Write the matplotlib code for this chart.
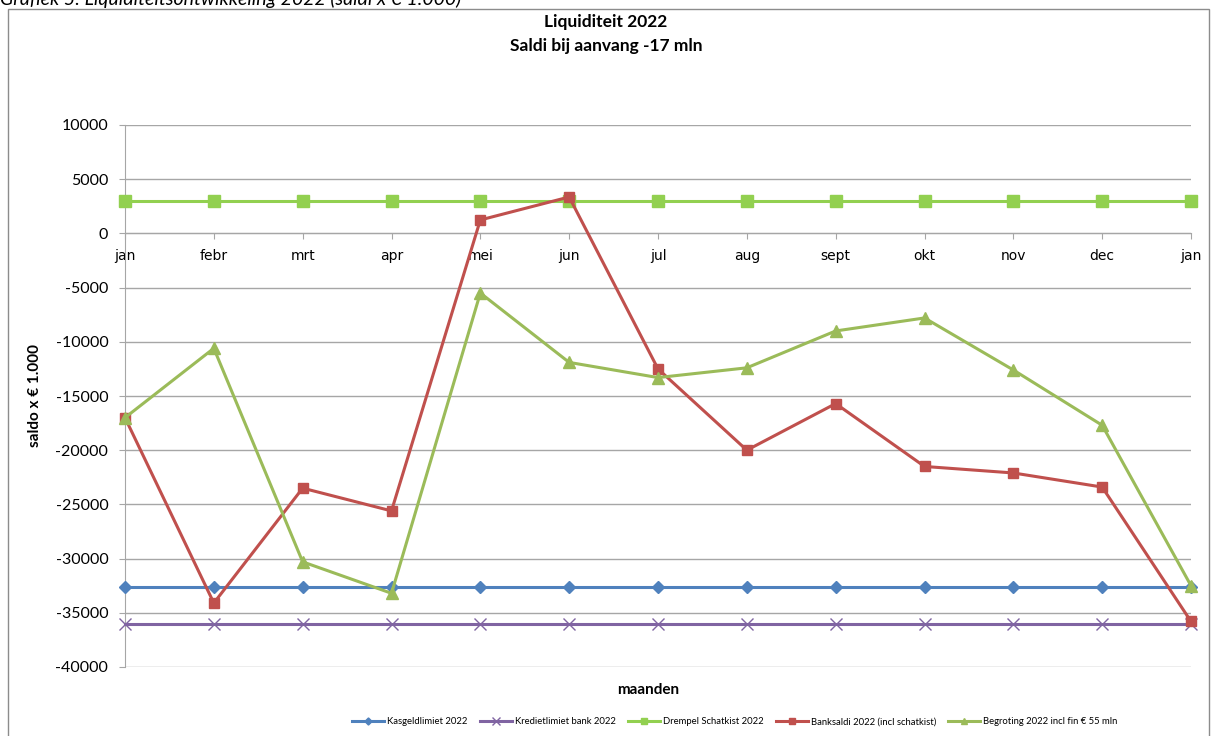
import matplotlib
matplotlib.use("Agg")
import matplotlib.pyplot as plt
from matplotlib.patches import Rectangle

# ── Data (saldi x € 1.000) ────────────────────────────────────────────────────
months = ["jan", "febr", "mrt", "apr", "mei", "jun", "jul", "aug", "sept",
          "okt", "nov", "dec", "jan"]
kasgeldlimiet = [-32600] * 13
kredietlimiet = [-36000] * 13
drempel_schatkist = [3000] * 13
banksaldi = [-17000, -34100, -23500, -25600, 1240, 3360, -12500, -20000,
             -15700, -21500, -22100, -23400, -35800]
begroting = [-17000, -10600, -30300, -33200, -5500, -11900, -13300, -12400,
             -9000, -7800, -12600, -17700, -32500]
y_ticks = list(range(-40000, 10001, 5000))

FONT = "Lato"
GRID = "#a6a6a6"

fig = plt.figure(figsize=(12.12, 7.36), dpi=100)
fig.patch.set_facecolor("white")

# outer chart frame + caption above it (cut off at the top, as in the source)
fig.patches.append(Rectangle((8 / 1212, -0.01), 1201 / 1212, 1 - 9 / 736 + 0.01,
                             transform=fig.transFigure, fill=False,
                             ec="#8c8c8c", lw=1.0))
fig.text(0.0, 1 - 5 / 736, "Grafiek 5: Liquiditeitsontwikkeling 2022 (saldi x € 1.000)",
         fontsize=14, style="italic", family=FONT, va="baseline", ha="left")

fig.text(0.5, 1 - 22 / 736, "Liquiditeit 2022", fontsize=12.5, weight="bold",
         family=FONT, ha="center", va="center")
fig.text(0.5, 1 - 46 / 736, "Saldi bij aanvang -17 mln", fontsize=12.5, weight="bold",
         family=FONT, ha="center", va="center")

ax = fig.add_axes([125 / 1212, 1 - 667 / 736, (1191 - 125) / 1212, (667 - 125) / 736])
x = list(range(len(months)))

ax.plot(x, kasgeldlimiet, color="#4f81bd", lw=2.2, marker="D", ms=6,
        label="Kasgeldlimiet 2022", clip_on=False, zorder=3)
ax.plot(x, kredietlimiet, color="#8064a2", lw=2.2, marker="x", ms=9, mew=1.0,
        label="Kredietlimiet bank 2022", clip_on=False, zorder=3)
ax.plot(x, drempel_schatkist, color="#92d050", lw=2.2, marker="s", ms=8,
        label="Drempel Schatkist 2022", clip_on=False, zorder=3)
ax.plot(x, banksaldi, color="#c0504d", lw=2.2, marker="s", ms=7,
        label="Banksaldi 2022 (incl schatkist)", clip_on=False, zorder=3)
ax.plot(x, begroting, color="#9bbb59", lw=2.2, marker="^", ms=8,
        label="Begroting 2022 incl fin € 55 mln", clip_on=False, zorder=3)

ax.set_xlim(0, 12)
ax.set_ylim(-40000, 10000)
ax.set_yticks(y_ticks)
ax.set_yticklabels([str(v) for v in y_ticks], family=FONT, fontsize=11.5)
ax.set_xticks(x)
ax.set_xticklabels(months, family=FONT, fontsize=11.5)

ax.grid(axis="y", color=GRID, lw=1.0)
ax.set_axisbelow(True)
for s in ("top", "right"):
    ax.spines[s].set_visible(False)
ax.spines["left"].set_color(GRID)
ax.spines["bottom"].set_color(GRID)
ax.spines["bottom"].set_position(("data", 0))
ax.tick_params(axis="y", length=4, color=GRID, pad=8)
ax.tick_params(axis="x", length=4, color=GRID, pad=7.5)

fig.text(35 / 1212, 1 - 396 / 736, "saldo x € 1.000", rotation=90, fontsize=11,
         weight="bold", family=FONT, ha="center", va="center")
fig.text(648 / 1212, 1 - 690 / 736, "maanden", fontsize=11, weight="bold",
         family=FONT, ha="center", va="center")

h, l = ax.get_legend_handles_labels()
leg = fig.legend(h, l, loc="center", bbox_to_anchor=(735 / 1212, 1 - 722 / 736),
                 ncol=5, frameon=False, handlelength=3.4,
                 columnspacing=1.3, handletextpad=0.3, markerscale=0.6,
                 prop={"family": FONT, "size": 6.8})

fig.savefig("out.png", dpi=100)
